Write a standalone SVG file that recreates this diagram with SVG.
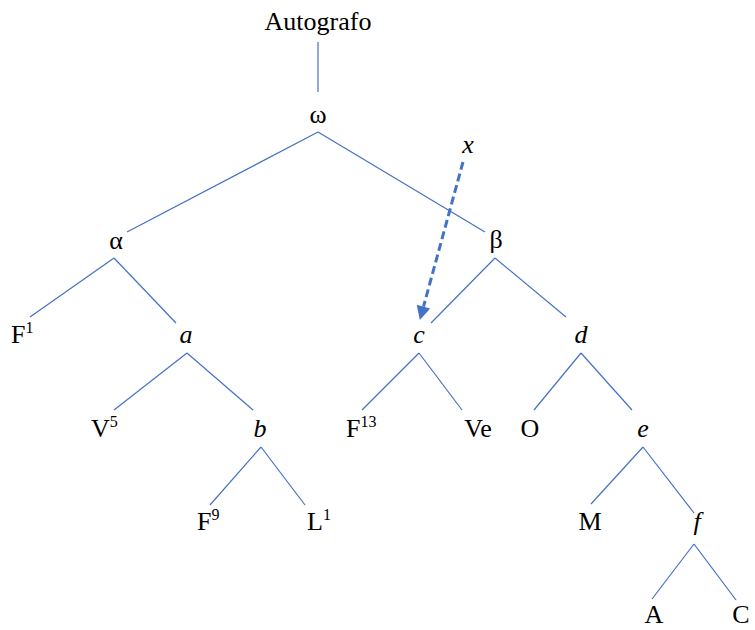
<svg xmlns="http://www.w3.org/2000/svg" width="755" height="630" viewBox="0 0 755 630">
<style>
.t{font-family:"Liberation Serif","Times New Roman",serif;font-size:26px;fill:#000;}
.m{text-anchor:middle;}
.i{font-style:italic;}
.s{font-size:16px;}
.e{stroke:#4472C4;stroke-width:1.2;fill:none;}
.d{stroke:#4472C4;stroke-width:3;stroke-dasharray:8 4;fill:none;}
</style>
<defs>
<marker id="ah" viewBox="0 0 10 10" refX="0" refY="5" markerWidth="17" markerHeight="14" markerUnits="userSpaceOnUse" orient="auto">
<path d="M0,0 L10,5 L0,10 z" fill="#4472C4"/>
</marker>
</defs>
<rect width="755" height="630" fill="#fff"/>
<g id="connectors">
<line class="e" x1="318" y1="42" x2="318" y2="92"/>
<line class="e" x1="318" y1="132" x2="127" y2="232"/>
<line class="e" x1="318" y1="132" x2="485" y2="232"/>
<line class="e" x1="114" y1="258" x2="30" y2="317"/>
<line class="e" x1="114" y1="258" x2="176" y2="323"/>
<line class="e" x1="187" y1="353" x2="114" y2="410"/>
<line class="e" x1="187" y1="353" x2="253" y2="410"/>
<line class="e" x1="261" y1="447" x2="210" y2="505"/>
<line class="e" x1="261" y1="447" x2="305" y2="505"/>
<line class="e" x1="495" y1="258" x2="431" y2="323"/>
<line class="e" x1="495" y1="258" x2="566" y2="317"/>
<line class="e" x1="419" y1="353" x2="362" y2="410"/>
<line class="e" x1="419" y1="353" x2="462" y2="410"/>
<line class="e" x1="581" y1="353" x2="534" y2="410"/>
<line class="e" x1="581" y1="353" x2="632" y2="410"/>
<line class="e" x1="643" y1="447" x2="591" y2="504"/>
<line class="e" x1="643" y1="447" x2="694" y2="513"/>
<line class="e" x1="694" y1="544" x2="652" y2="599"/>
<line class="e" x1="694" y1="544" x2="736" y2="600"/>
<line class="d" x1="463" y1="162" x2="423.5" y2="306.6" marker-end="url(#ah)"/>
</g>
<g id="n-autografo"><text class="t m" x="318" y="30">Autografo</text></g>
<g id="n-omega"><text class="t m" x="318" y="123">ω</text></g>
<g id="n-x"><text class="t m i" x="468" y="153">x</text></g>
<g id="n-alpha"><text class="t m" x="116" y="249">α</text></g>
<g id="n-beta"><text class="t m" x="496" y="248">β</text></g>
<g id="n-F1"><text class="t" x="11" y="343">F<tspan class="s" dy="-10">1</tspan></text></g>
<g id="n-a"><text class="t m i" x="186" y="343">a</text></g>
<g id="n-c"><text class="t m i" x="419" y="343">c</text></g>
<g id="n-d"><text class="t m i" x="581" y="343">d</text></g>
<g id="n-V5"><text class="t" x="91" y="437">V<tspan class="s" dy="-10">5</tspan></text></g>
<g id="n-b"><text class="t m i" x="260" y="437">b</text></g>
<g id="n-F13"><text class="t" x="346" y="437">F<tspan class="s" dy="-10">13</tspan></text></g>
<g id="n-Ve"><text class="t m" x="478" y="437">Ve</text></g>
<g id="n-O"><text class="t m" x="530" y="437">O</text></g>
<g id="n-e"><text class="t m i" x="643" y="437">e</text></g>
<g id="n-F9"><text class="t" x="197" y="530">F<tspan class="s" dy="-10">9</tspan></text></g>
<g id="n-L1"><text class="t" x="307" y="530">L<tspan class="s" dy="-10">1</tspan></text></g>
<g id="n-M"><text class="t m" x="590" y="530">M</text></g>
<g id="n-f"><text class="t m i" x="697" y="530">f</text></g>
<g id="n-A"><text class="t m" x="654" y="623">A</text></g>
<g id="n-C"><text class="t m" x="741" y="623">C</text></g>
</svg>
